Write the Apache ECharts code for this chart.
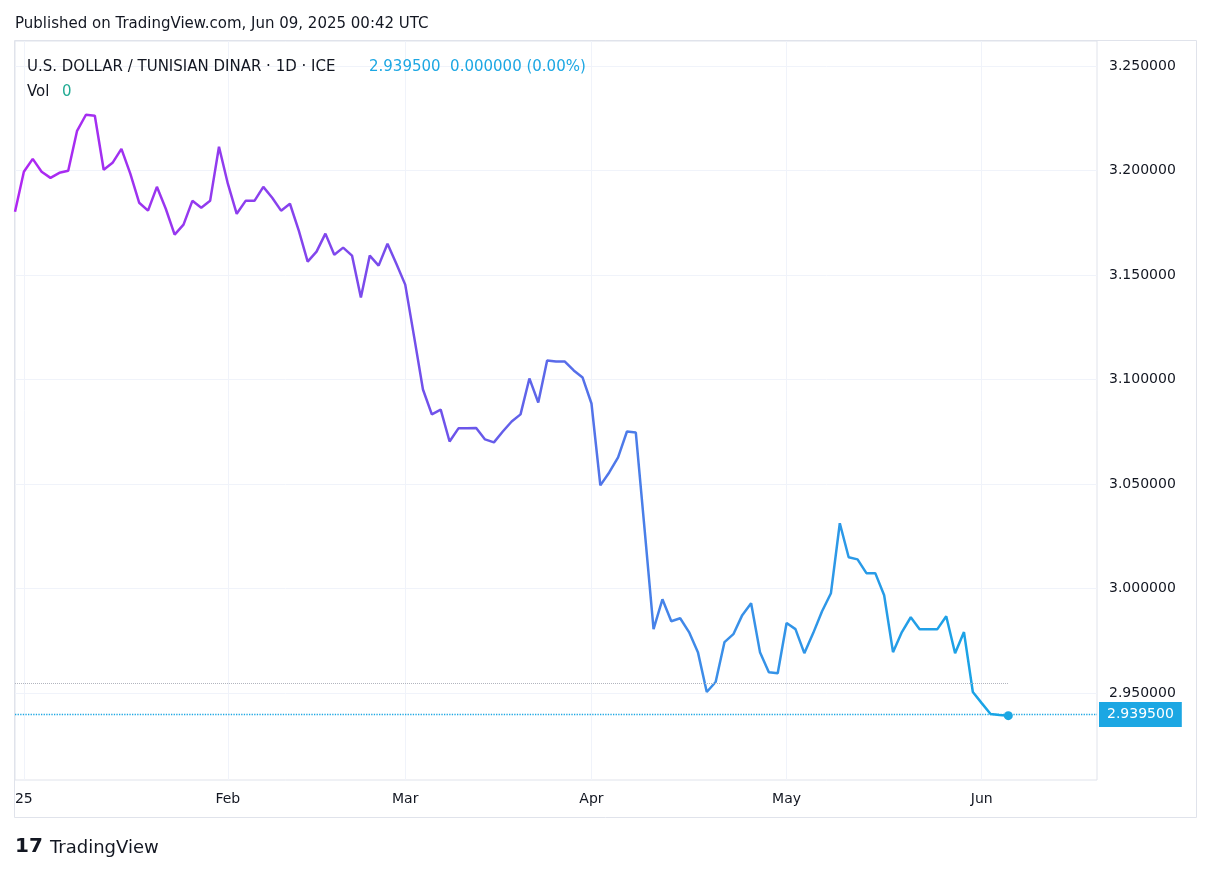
<!DOCTYPE html>
<html><head><meta charset="utf-8">
<script src="https://cdn.jsdelivr.net/npm/echarts@6/dist/echarts.min.js"></script>
<style>html,body{margin:0;padding:0;background:#fff}#c{width:1212px;height:871px}</style>
</head><body><div id="c"></div>
<script>
const prices = [3.1807,3.1998,3.2060,3.1998,3.1969,3.1993,3.2003,3.2194,3.2271,3.2266,
3.2008,3.2041,3.2108,3.1989,3.1850,3.1812,3.1926,3.1821,3.1697,3.1745,
3.1859,3.1826,3.1859,3.2118,3.1941,3.1797,3.1859,3.1859,3.1926,3.1874,
3.1812,3.1845,3.1716,3.1568,3.1616,3.1702,3.1601,3.1635,3.1597,3.1396,
3.1597,3.1549,3.1654,3.1558,3.1458,3.1209,3.0956,3.0837,3.0860,3.0707,
3.0770,3.0770,3.0772,3.0717,3.0703,3.0755,3.0803,3.0837,3.1009,3.0894,
3.1095,3.1090,3.1090,3.1047,3.1013,3.0889,3.0497,3.0559,3.0631,3.0755,
3.0750,3.0282,2.9809,2.9952,2.9847,2.9861,2.9795,2.9699,2.9508,2.9556,
2.9747,2.9785,2.9876,2.9933,2.9699,2.9603,2.9598,2.9838,2.9809,2.9694,
2.9790,2.9895,2.9981,3.0316,3.0153,3.0143,3.0077,3.0077,2.9971,2.9699,
2.9795,2.9866,2.9809,2.9809,2.9809,2.9871,2.9694,2.9795,2.9508,2.9455,
2.9403,2.9398,2.9395];
const yMinTick = 2.95, yMaxTick = 3.25, yStep = 0.05;
const monthNames = ['25','Feb','Mar','Apr','May','Jun','Jul'];
const lastPrice = 2.9395;
const greyLevel = 2.9550;

// weekday categories starting 2024-12-31
const cats = [];
let d = new Date(Date.UTC(2024,11,31));
while (cats.length < 123) {
  const wd = d.getUTCDay();
  if (wd !== 0 && wd !== 6) cats.push(d.toISOString().slice(0,10));
  d = new Date(d.getTime() + 86400000);
}
const monthStart = i => i > 0 && cats[i].slice(5,7) !== cats[i-1].slice(5,7);
const labelFor = i => monthNames[parseInt(cats[i].slice(5,7),10) - 1] || '';

const F = '"DejaVu Sans", sans-serif';
const chart = echarts.init(document.getElementById('c'));
const lastIdx = prices.length - 1;
chart.setOption({
  animation:false,
  backgroundColor:'#fff',
  textStyle:{fontFamily:F},
  title:[
    {text:'Published on TradingView.com, Jun 09, 2025 00:42 UTC',left:10,top:12,textStyle:{fontFamily:F,fontSize:15,fontWeight:'normal',color:'#131722'}},
    {text:'U.S. DOLLAR / TUNISIAN DINAR · 1D · ICE',left:22,top:55,textStyle:{fontFamily:F,fontSize:15,fontWeight:'normal',color:'#131722'}},
    {text:'2.939500  0.000000 (0.00%)',left:364,top:55,textStyle:{fontFamily:F,fontSize:15,fontWeight:'normal',color:'#1ca7e3'}},
    {text:'Vol',left:22,top:80,textStyle:{fontFamily:F,fontSize:15,fontWeight:'normal',color:'#131722'}},
    {text:'0',left:57,top:80,textStyle:{fontFamily:F,fontSize:15,fontWeight:'normal',color:'#22ab94'}},
    {text:'TradingView',left:45,top:834,textStyle:{fontFamily:F,fontSize:18,fontWeight:'normal',color:'#131722'}},
    {text:'17',left:10,top:832,textStyle:{fontFamily:F,fontSize:20,fontWeight:'bold',color:'#131722'}}
  ],
  graphic:[{type:'rect',shape:{x:14.5,y:40.5,width:1182,height:777},style:{fill:'none',stroke:'#e0e3eb',lineWidth:1},silent:true}],
  grid:[
    {left:15,right:115,top:41,bottom:91,show:true,borderColor:'#e0e3eb',borderWidth:1},
    {left:15,right:115,top:66,height:627,show:false}
  ],
  xAxis:[
    {type:'category',data:cats,boundaryGap:false,gridIndex:0,
    axisLine:{show:false},axisTick:{show:false},
    axisLabel:{interval:(i)=>monthStart(i),formatter:(v,i)=>labelFor(i),color:'#131722',fontSize:14,margin:12},
    splitLine:{show:true,interval:(i)=>monthStart(i),lineStyle:{color:'#f0f3fa'}}},
    {type:'category',data:cats,gridIndex:1,show:false}
  ],
  yAxis:[
    {type:'value',position:'right',min:2.9087,max:3.2624,gridIndex:0,
    axisLine:{show:false},axisTick:{show:false},axisLabel:{show:false},splitLine:{show:false}},
    {type:'value',position:'right',min:yMinTick,max:yMaxTick,interval:yStep,gridIndex:1,
    axisLine:{show:false},axisTick:{show:false},
    axisLabel:{formatter:v=>v.toFixed(6),color:'#131722',fontSize:14,margin:12},
    splitLine:{show:true,lineStyle:{color:'#f0f3fa'}}}
  ],
  series:[
   {type:'line',data:prices,showSymbol:false,symbol:'none',z:3,
    lineStyle:{width:2.5,color:new echarts.graphic.LinearGradient(0,0,1,0,[
      {offset:0,color:'#b026f2'},{offset:0.45,color:'#6c55ea'},{offset:0.7,color:'#3c8ee8'},{offset:1,color:'#16a6e6'}])},
    markLine:{silent:true,symbol:'none',animation:false,
      data:[
        [{coord:[0,greyLevel],lineStyle:{color:'#b2b5be',type:'dotted',width:1},label:{show:false}},{coord:[lastIdx+0.3,greyLevel]}],
        {yAxis:lastPrice,lineStyle:{color:'#1ca7e3',type:'dotted',width:1.3},
          label:{show:true,position:'end',distance:2,formatter:()=>lastPrice.toFixed(6),color:'#fff',backgroundColor:'#1ca7e3',padding:[6,8,5,8],fontSize:14}}
      ]},
    markPoint:{silent:true,symbol:'circle',symbolSize:9,data:[{coord:[lastIdx,lastPrice],itemStyle:{color:'#1ca7e3'},label:{show:false}}]}
  }]
});
</script></body></html>
